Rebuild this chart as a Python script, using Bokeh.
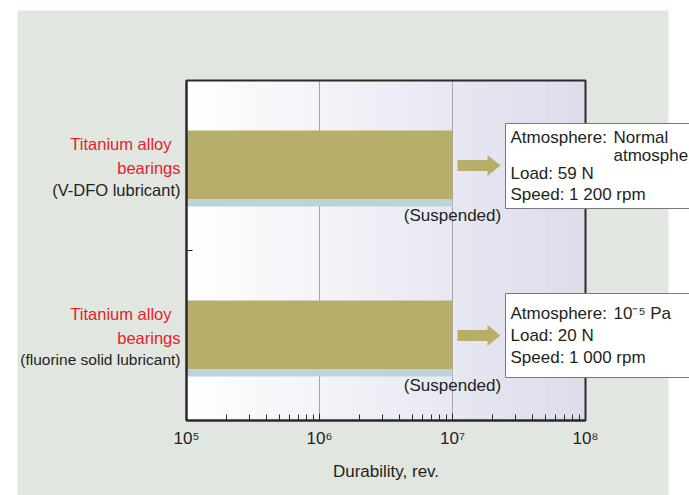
import numpy as np
from bokeh.plotting import figure
from bokeh.models import Range1d, FixedTicker
from bokeh.core.properties import value
from bokeh.embed import file_html
from bokeh.resources import INLINE

# ---------------- data ----------------
categories = ["Titanium alloy bearings (V-DFO lubricant)",
              "Titanium alloy bearings (fluorine solid lubricant)"]
label_red = [["Titanium alloy", "bearings"], ["Titanium alloy", "bearings"]]
label_dark = ["(V-DFO lubricant)", "(fluorine solid lubricant)"]
durability = [1e7, 1e7]
status = ["(Suspended)", "(Suspended)"]
cond_keys = [["Atmosphere:", "Load: 59 N", "Speed: 1 200 rpm"],
             ["Atmosphere:", "Load: 20 N", "Speed: 1 000 rpm"]]
atmosphere = [["Normal", "atmosphere"], ["10\u207b\u2075 Pa"]]
x_ticks = [1e5, 1e6, 1e7, 1e8]
x_tick_labels = ["10\u2075", "10\u2076", "10\u2077", "10\u2078"]
x_label = "Durability, rev."

# ---------------- layout constants (canvas px) ----------------
FONT = "Liberation Sans"
W, H = 689, 495
FX0, FX1, FY0, FY1 = 186, 585, 80, 420   # plotting box in px
LMIN, LMAX = 5.0, 8.0
YMIN, YMAX = 0.0, 2.0
y_pos = [1.5, 0.5]

def xd(px):
    return 10 ** (LMIN + (px - FX0) / (FX1 - FX0) * (LMAX - LMIN))

def yd(py):
    return YMIN + (FY1 - py) / (FY1 - FY0) * (YMAX - YMIN)

PX_PER_Y = (FY1 - FY0) / (YMAX - YMIN)
PX_PER_DEC = (FX1 - FX0) / (LMAX - LMIN)

def dy(px):  # pixel offset (downwards) to data offset
    return -px / PX_PER_Y

BG = "#e1e6e0"
OLIVE = "#b8ae6b"
STRIP = "#bdd3dc"
RED = "#e8202a"
DARK = "#231f20"
GRID = "#a4a4ac"
FRAME = "#2b2b2b"

p = figure(width=W, height=H, x_axis_type="log",
           x_range=Range1d(xd(0), xd(W)), y_range=Range1d(yd(H), yd(0)),
           output_backend="svg", toolbar_location=None,
           min_border=0, min_border_left=0, min_border_right=0,
           min_border_top=0, min_border_bottom=0)
p.border_fill_color = "white"
p.background_fill_color = "white"
p.outline_line_color = None
p.grid.visible = False

# grey panel background
p.quad(left=[xd(17)], right=[xd(668)], top=[yd(10)], bottom=[yd(H + 10)],
       fill_color=BG, line_color=None)

# gradient in plotting box
N = 120
edges = np.linspace(LMIN, LMAX, N + 1)
c0 = np.array([255, 255, 255]); c1 = np.array([220, 220, 236])
cols = []
for i in range(N):
    t = (i + 0.5) / N
    c = (c0 + (c1 - c0) * t).round().astype(int)
    cols.append("#%02x%02x%02x" % tuple(c))
p.quad(left=10 ** edges[:-1], right=10 ** edges[1:], bottom=YMIN, top=YMAX,
       fill_color=cols, line_color=cols, line_width=1)

# vertical grid lines
grid_x = x_ticks[1:-1]
p.segment(x0=grid_x, x1=grid_x, y0=YMIN, y1=YMAX, line_color=GRID, line_width=1)

# bars
y_arr = np.array(y_pos)
p.quad(left=x_ticks[0], right=durability, top=y_arr + dy(-35), bottom=y_arr + dy(34),
       fill_color=OLIVE, line_color=None)
p.quad(left=x_ticks[0], right=durability, top=y_arr + dy(34), bottom=y_arr + dy(41),
       fill_color=STRIP, line_color=None)

# arrows
axs, ays = [], []
for d, y in zip(durability, y_pos):
    lx = np.log10(d)
    s0 = 10 ** (lx + 5 / PX_PER_DEC)
    s1 = 10 ** (lx + 35 / PX_PER_DEC)
    tip = 10 ** (lx + 48 / PX_PER_DEC)
    hs = 5.5 / PX_PER_Y
    hh = 10.5 / PX_PER_Y
    axs.append([s0, s1, s1, tip, s1, s1, s0])
    ays.append([y + hs, y + hs, y + hh, y, y - hh, y - hs, y - hs])
p.patches(xs=axs, ys=ays, fill_color=OLIVE, line_color=None)

# frame outline
p.quad(left=[x_ticks[0]], right=[x_ticks[-1]], bottom=[YMIN], top=[YMAX],
       fill_color=None, line_color=FRAME, line_width=2)

# axes (fixed inside the canvas-wide frame)
xa = p.xaxis[0]
xa.fixed_location = YMIN
xa.bounds = (x_ticks[0], x_ticks[-1])
xa.ticker = FixedTicker(ticks=x_ticks,
                        minor_ticks=[k * 10 ** e for e in range(5, 8) for k in range(2, 10)])
xa.major_label_overrides = {t: l for t, l in zip(x_ticks, x_tick_labels)}
xa.major_tick_in = 7
xa.major_tick_out = 0
xa.minor_tick_in = 6
xa.minor_tick_out = 0
xa.axis_line_width = 2
xa.axis_line_color = FRAME
xa.major_tick_line_color = FRAME
xa.minor_tick_line_color = FRAME
xa.major_label_text_font = FONT
xa.major_label_text_font_size = "17px"
xa.major_label_text_color = DARK
xa.major_label_standoff = 8
xa.axis_label = x_label
xa.axis_label_text_font = FONT
xa.axis_label_text_font_size = "17px"
xa.axis_label_text_font_style = "normal"
xa.axis_label_text_color = DARK
xa.axis_label_standoff = 11

ya = p.yaxis[0]
ya.fixed_location = x_ticks[0]
ya.bounds = (YMIN, YMAX)
mid = (y_pos[0] + y_pos[1]) / 2
ya.ticker = FixedTicker(ticks=[mid])
ya.major_label_overrides = {mid: ""}
ya.major_tick_in = 6
ya.major_tick_out = 0
ya.axis_line_width = 2
ya.axis_line_color = FRAME
ya.major_tick_line_color = FRAME

# category labels
for i, y in enumerate(y_pos):
    for txt, o, xr in zip(label_red[i], [-22, 2], [171, 180]):
        p.text(x=[xd(xr)], y=[y + dy(o)], text=[txt], text_align="right",
               text_baseline="middle", text_font=value(FONT), text_font_size="16.5px",
               text_color=RED)
    p.text(x=[xd(180)], y=[y + dy(24)], text=[label_dark[i]], text_align="right",
           text_baseline="middle", text_font=value(FONT),
           text_font_size="16.5px" if i == 0 else "15.5px", text_color=DARK)

# suspended labels
p.text(x=durability, y=list(y_arr + dy(50)), text=status, text_align="center",
       text_baseline="middle", text_font=value(FONT), text_font_size="17px",
       text_color=DARK)

# condition boxes
box_specs = [(-42, 43, [-28, 8, 29], [-28, -10]), (-42, 42, [-22, 0, 22], [-22])]
for i, y in enumerate(y_pos):
    t_off, b_off, key_offs, atm_offs = box_specs[i]
    p.quad(left=[xd(505)], right=[xd(760)], top=[y + dy(t_off)], bottom=[y + dy(b_off)],
           fill_color="white", line_color="#7a7a7a", line_width=1)
    p.text(x=[xd(510)] * len(key_offs), y=[y + dy(o) for o in key_offs],
           text=cond_keys[i], text_align="left", text_baseline="middle",
           text_font=value(FONT), text_font_size="17px", text_color=DARK)
    p.text(x=[xd(613)] * len(atm_offs), y=[y + dy(o) for o in atm_offs],
           text=atmosphere[i], text_align="left", text_baseline="middle",
           text_font=value(FONT), text_font_size="17px", text_color=DARK)

open("out.html", "w").write(file_html(p, INLINE))
